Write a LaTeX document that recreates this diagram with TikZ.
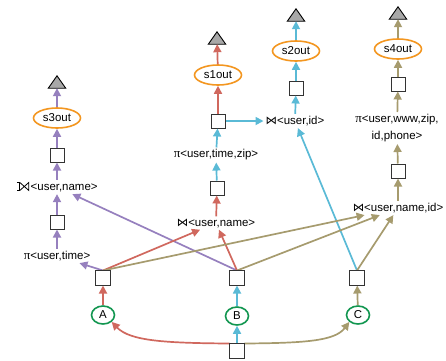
\documentclass[tikz,border=0pt]{standalone}
\usepackage{fontspec}
\setmainfont{Liberation Sans}
\newfontfamily\djv{DejaVu Sans}
\newfontfamily\lserif{Liberation Serif}
\usetikzlibrary{arrows.meta,shapes.geometric}
\definecolor{cpur}{RGB}{150,128,190}
\definecolor{cred}{RGB}{208,104,94}
\definecolor{cblu}{RGB}{90,186,214}
\definecolor{coli}{RGB}{166,155,110}
\definecolor{corg}{RGB}{243,150,32}
\definecolor{cgrn}{RGB}{18,150,80}
\definecolor{cgry}{RGB}{168,168,168}
\newcommand{\jn}{{\djv ⋈}}
\newcommand{\ljn}{\tikz[baseline=0bp,x=1bp,y=1bp,line width=0.8bp,line join=miter]{\draw (-3,8)--(0,8)--(0,0)--(-3,0); \draw (0,0)--(9,8)--(9,0)--(0,8);}\hspace{1.5bp}}
\newcommand{\pj}{{\lserif\fontsize{13}{13}\selectfont π}}
\begin{document}
\begin{tikzpicture}[x=1bp,y=-1bp,
 every node/.style={font=\fontsize{11.5}{13}\selectfont, inner sep=0pt},
 box/.style={draw=black!80, line width=1bp, fill=white, minimum size=14bp},
 outn/.style={draw=corg, line width=1.6bp, ellipse, minimum width=47bp, minimum height=20bp},
 src/.style={draw=cgrn, line width=1.6bp, ellipse, minimum width=23bp, minimum height=18bp},
 lbl/.style={inner sep=2bp},
 trin/.style={minimum width=17bp, minimum height=12bp},
 tri/.style={draw=black, line width=0.9bp, fill=cgry, line join=miter},
 ar/.style={-{Triangle[length=8bp,width=8bp]}, line width=1.7bp},
]
\useasboundingbox (0,0) rectangle (446,360);

% left column
\node[trin] (tri3) at (57,82) {};
\node[outn] (s3) at (57,118) {s3out};
\node[box] (sq3) at (57,155) {};
\node[lbl] (join3) at (57,187) {\ljn<user,name>};
\node[box] (sq3b) at (57,222) {};
\node[lbl] (proj3) at (57,256) {\pj<user,time>};
\node[box] (sqA) at (103,278) {};
\node[src] (A) at (103,315) {A};

% middle column
\node[trin] (tri1) at (217,38) {};
\node[outn] (s1) at (218,75) {s1out};
\node[box] (sq1) at (218,121) {};
\node[lbl] (proj1) at (216,155) {\pj<user,time,zip>};
\node[box] (sq1b) at (217,188) {};
\node[lbl] (join1) at (216,223) {\jn<user,name>};
\node[box] (sqB) at (237,278) {};
\node[src] (B) at (237,316) {B};
\node[box] (sqBot) at (237,351) {};

% s2 column
\node[trin] (tri2) at (296,15) {};
\node[outn] (s2) at (296,51) {s2out};
\node[box] (sq2) at (296,88) {};
\node[lbl] (join2) at (295,121) {\jn<user,id>};

% s4 column
\node[trin] (tri4) at (398,13) {};
\node[outn] (s4) at (398,49) {s4out};
\node[box] (sq4) at (398,84) {};
\node[lbl, align=center, font=\fontsize{11.5}{17}\selectfont] (proj4) at (397,128) {\pj<user,www,zip,\\id,phone>};
\node[box] (sq4b) at (398,171) {};
\node[lbl] (join4) at (398,208) {\jn<user,name,id>};
\node[box] (sqC) at (357,278) {};
\node[src] (C) at (358,315) {C};

% triangles
\foreach \t in {tri1,tri2,tri3,tri4}
  \draw[tri] (\t.south west) -- (\t.north) -- (\t.south east) -- cycle;

% purple chain
\draw[ar,cpur] (s3) -- (tri3);
\draw[ar,cpur] (sq3) -- (s3);
\draw[ar,cpur] (join3) -- (sq3);
\draw[ar,cpur] (sq3b) -- (join3);
\draw[ar,cpur] (proj3) -- (sq3b);
\draw[ar,cpur] (sqA.north) -- (proj3);
\draw[ar,cpur] (sqB.north) -- (join3);

% red
\draw[ar,cred] (A) -- (sqA);
\draw[ar,cred] (sqA.north) -- (join1);
\draw[ar,cred] (sqB.north) -- (join1);
\draw[ar,cred] (join1) -- (sq1b);
\draw[ar,cred] (sq1) -- (s1);
\draw[ar,cred] (s1) -- (tri1);

% blue
\draw[ar,cblu] (sq1b) -- (proj1);
\draw[ar,cblu] (proj1) -- (sq1);
\draw[ar,cblu] (sq1) -- (join2);
\draw[ar,cblu] (join2) -- (sq2);
\draw[ar,cblu] (sq2) -- (s2);
\draw[ar,cblu] (s2) -- (tri2);
\draw[ar,cblu] (sqC.north) -- (join2);
\draw[ar,cblu] (B) -- (sqB);
\draw[ar,cblu] (sqBot) -- (B);

% olive
\draw[ar,coli] (sqA.north) -- (join4);
\draw[ar,coli] (sqB.north) -- (join4);
\draw[ar,coli] (sqC.north) -- (join4);
\draw[ar,coli] (join4) -- (sq4b);
\draw[ar,coli] (sq4b) -- (proj4);
\draw[ar,coli] (proj4) -- (sq4);
\draw[ar,coli] (sq4) -- (s4);
\draw[ar,coli] (s4) -- (tri4);
\draw[ar,coli] (C) -- (sqC);

% bottom curves
\draw[ar,cred] (sqBot.north west) .. controls (165,343) and (130,341) .. (A.south east);
\draw[ar,coli] (sqBot.north east) .. controls (305,343) and (335,341) .. (C.south west);

% redraw boxes on top
\foreach \b in {sqA,sqB,sqC,sqBot}
  \draw[draw=black!80, line width=1bp, fill=white] (\b.south west) rectangle (\b.north east);
\end{tikzpicture}
\end{document}
